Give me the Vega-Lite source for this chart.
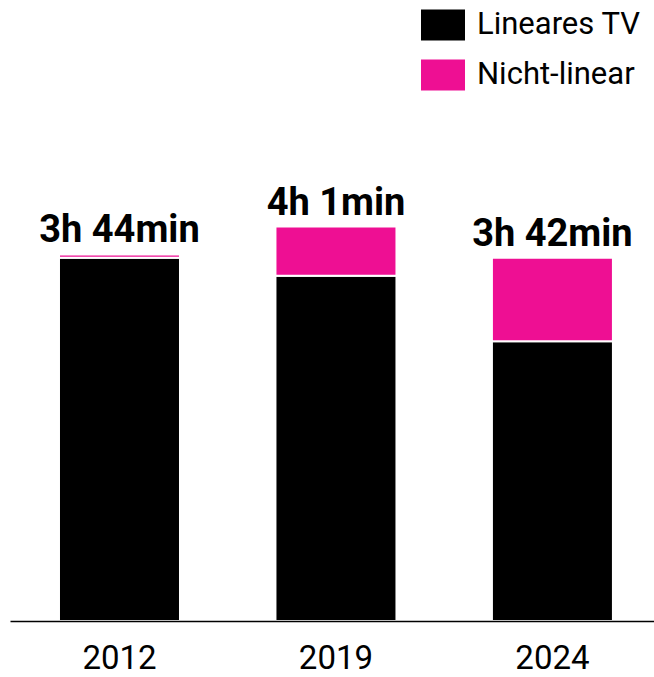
{
  "$schema": "https://vega.github.io/schema/vega-lite/v6.json",
  "width": 644,
  "height": 491,
  "autosize": {"type": "none"},
  "padding": {"left": 10, "top": 130, "right": 0, "bottom": 56},
  "background": "white",
  "config": {
    "view": {"stroke": null},
    "font": "Roboto"
  },
  "datasets": {
    "segments": [
      {"year": "2012", "type": "Lineares TV", "minutes": 222},
      {"year": "2012", "type": "Nicht-linear", "minutes": 2},
      {"year": "2019", "type": "Lineares TV", "minutes": 211},
      {"year": "2019", "type": "Nicht-linear", "minutes": 30},
      {"year": "2024", "type": "Lineares TV", "minutes": 171},
      {"year": "2024", "type": "Nicht-linear", "minutes": 51}
    ],
    "totals": [
      {"year": "2012", "total": 224, "label": "3h 44min"},
      {"year": "2019", "total": 241, "label": "4h 1min"},
      {"year": "2024", "total": 222, "label": "3h 42min"}
    ]
  },
  "layer": [
    {
      "data": {"name": "segments"},
      "mark": {"type": "bar", "stroke": "white", "strokeWidth": 2},
      "encoding": {
        "x": {
          "field": "year", "type": "nominal",
          "scale": {"paddingInner": 0.441, "paddingOuter": 0.208, "align": 0.544},
          "axis": {
            "title": null, "labelAngle": 0, "ticks": false, "zindex": 1,
            "domainColor": "black", "domainWidth": 1.5,
            "labelFontSize": 33, "labelColor": "black", "labelPadding": 21,
            "labelFont": "Roboto"
          }
        },
        "y": {
          "field": "minutes", "type": "quantitative", "aggregate": "sum",
          "stack": "zero",
          "scale": {"domain": [0, 300]},
          "axis": null
        },
        "order": {"field": "type", "sort": "ascending"},
        "color": {
          "field": "type", "type": "nominal",
          "scale": {"domain": ["Lineares TV", "Nicht-linear"], "range": ["#000000", "#EE0F93"]},
          "legend": {
            "title": null,
            "orient": "none",
            "legendX": 411,
            "legendY": -127,
            "padding": 0,
            "symbolType": "M-1,-0.7H1V0.7H-1Z",
            "symbolSize": 1936,
            "symbolStrokeWidth": 0,
            "symbolOpacity": 1,
            "labelFontSize": 31,
            "labelFont": "Roboto",
            "labelColor": "black",
            "labelOffset": 12,
            "rowPadding": 12,
            "labelLimit": 400
          }
        }
      }
    },
    {
      "data": {"name": "totals"},
      "mark": {"type": "text", "baseline": "alphabetic", "dy": -12, "fontSize": 38, "fontWeight": "bold", "font": "Roboto", "color": "black"},
      "encoding": {
        "x": {"field": "year", "type": "nominal"},
        "y": {"field": "total", "type": "quantitative"},
        "text": {"field": "label"}
      }
    }
  ]
}
